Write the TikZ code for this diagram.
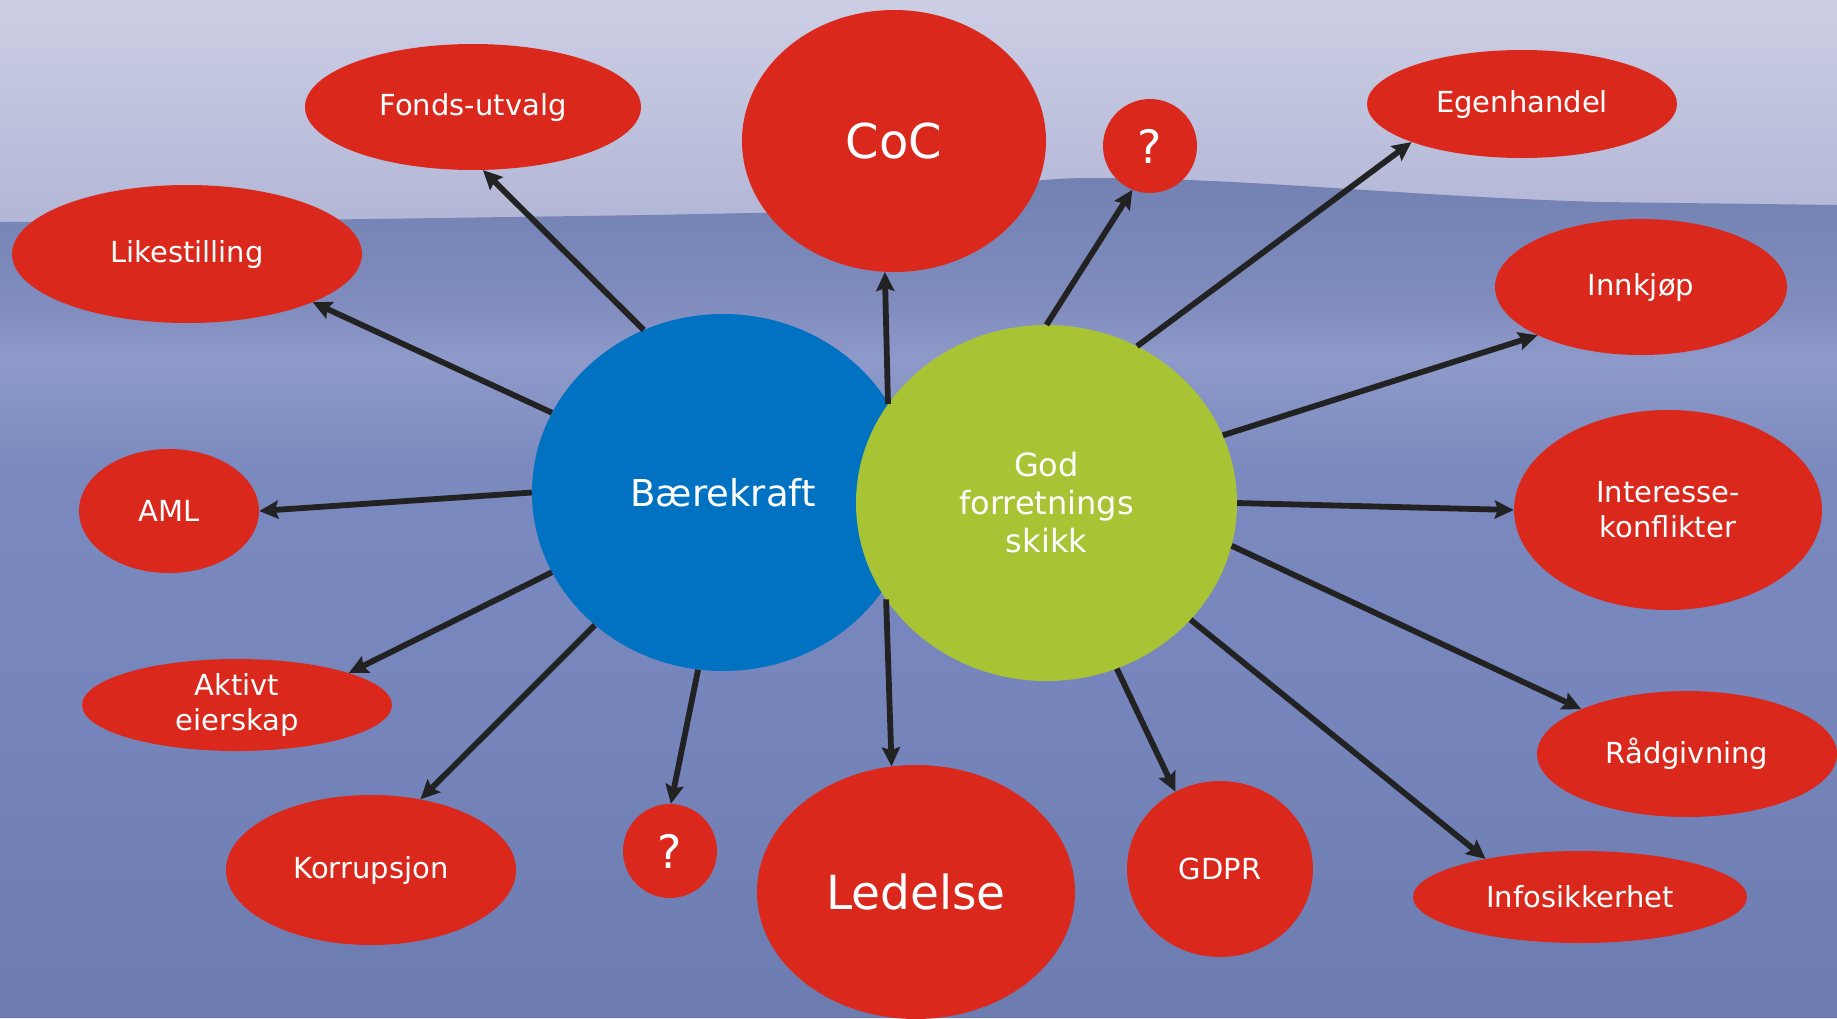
\documentclass[tikz,border=0pt]{standalone}
\usepackage{fontspec}
\setmainfont{DejaVu Sans}
\usetikzlibrary{shapes.geometric,arrows.meta}
\definecolor{redn}{RGB}{218,41,28}
\definecolor{bluen}{RGB}{0,114,193}
\definecolor{greenn}{RGB}{168,196,52}
\definecolor{arrc}{RGB}{34,34,34}
\definecolor{skyA}{RGB}{204,206,228}
\definecolor{skyB}{RGB}{178,182,214}
\definecolor{snA}{RGB}{114,129,178}
\definecolor{snB}{RGB}{128,141,190}
\definecolor{snC}{RGB}{142,154,202}
\definecolor{snD}{RGB}{122,137,190}
\definecolor{snE}{RGB}{118,134,188}
\definecolor{snF}{RGB}{108,124,176}
\begin{document}
\begin{tikzpicture}[x=1pt,y=-1pt,
  ell/.style={ellipse,inner sep=0pt,fill=redn,text=white,align=center,
    font=\fontsize{29}{35}\selectfont},
  big/.style={ellipse,inner sep=0pt,text=white,align=center},
  conn/.style={draw=arrc,line width=5.8pt,
    -{Stealth[length=19pt,width=18pt,inset=3pt]}}]
\useasboundingbox (0,0) rectangle (1837,1018);
\clip (0,0) rectangle (1837,1018);
% sky
\shade[top color=skyA,bottom color=skyB] (0,0) rectangle (1837,230);
% snow
\begin{scope}
\clip (0,222) -- (300,220) -- (650,215) -- (800,212)
  .. controls (950,200) and (1000,178) .. (1090,178)
  .. controls (1250,178) and (1400,196) .. (1600,202) -- (1837,205)
  -- (1837,1018) -- (0,1018) -- cycle;
\shade[top color=snA,bottom color=snB] (0,170) rectangle (1837,310);
\shade[top color=snB,bottom color=snC] (0,309) rectangle (1837,360);
\shade[top color=snC,bottom color=snD] (0,359) rectangle (1837,470);
\shade[top color=snD,bottom color=snE] (0,469) rectangle (1837,700);
\shade[top color=snE,bottom color=snF] (0,699) rectangle (1837,1018);
\end{scope}
% central nodes
\node[big,fill=bluen,minimum width=382pt,minimum height=357pt,
  font=\fontsize{37}{44}\selectfont] (bk) at (723,492.5) {Bærekraft};
\node[big,fill=greenn,minimum width=381pt,minimum height=356pt,
  font=\fontsize{32}{38}\selectfont] (god) at (1046.5,503) {God\\forretnings\\skikk};
% outer nodes
\node[ell,minimum width=336pt,minimum height=126pt] (fonds) at (473,107) {Fonds-utvalg};
\node[ell,minimum width=304pt,minimum height=262pt,font=\fontsize{48}{56}\selectfont] (coc) at (894,141) {CoC};
\node[ell,minimum width=94pt,minimum height=94pt,font=\fontsize{46}{52}\selectfont] (q1) at (1150,146) {?};
\node[ell,minimum width=310pt,minimum height=108pt] (egen) at (1522,104) {Egenhandel};
\node[ell,minimum width=350pt,minimum height=138pt] (like) at (187,254) {Likestilling};
\node[ell,minimum width=292pt,minimum height=136pt] (innk) at (1641,287) {Innkjøp};
\node[ell,minimum width=180pt,minimum height=124pt] (aml) at (169,511) {AML};
\node[ell,minimum width=308pt,minimum height=200pt] (inter) at (1668,510) {Interesse-\\konflikter};
\node[ell,minimum width=310pt,minimum height=92pt] (akt) at (237,705) {Aktivt\\eierskap};
\node[ell,minimum width=300pt,minimum height=126pt] (rad) at (1687,754) {Rådgivning};
\node[ell,minimum width=290pt,minimum height=150pt] (kor) at (371,870) {Korrupsjon};
\node[ell,minimum width=94pt,minimum height=94pt,font=\fontsize{46}{52}\selectfont] (q2) at (670,851) {?};
\node[ell,minimum width=318pt,minimum height=254pt,font=\fontsize{47}{54}\selectfont] (led) at (916,892) {Ledelse};
\node[ell,minimum width=186pt,minimum height=176pt] (gdpr) at (1220,869) {GDPR};
\node[ell,minimum width=334pt,minimum height=92pt] (info) at (1580,897) {Infosikkerhet};
% connectors
\draw[conn] (bk.116.5) -- (fonds.-81);
\draw[conn] (bk.155.3) -- (like.-21.1);
\draw[conn] (bk.180) -- (aml.0);
\draw[conn] (bk.205.2) -- (akt.16.9);
\draw[conn] (bk.226.2) -- (kor.55.5);
\draw[conn] (bk.262.4) -- (q2.89);
\draw[conn] (god.211.9) -- (led.101.4);
\draw[conn] (god.148.3) -- (coc.266.6);
\draw[conn] (god.90) -- (q1.248.2);
\draw[conn] (god.60.3) -- (egen.199.5);
\draw[conn] (god.21.3) -- (innk.205.2);
\draw[conn] (god.0) -- (inter.180);
\draw[conn] (god.-13) -- (rad.157.2);
\draw[conn] (god.-39) -- (info.158.5);
\draw[conn] (god.-67.8) -- (gdpr.120.4);
\end{tikzpicture}
\end{document}
